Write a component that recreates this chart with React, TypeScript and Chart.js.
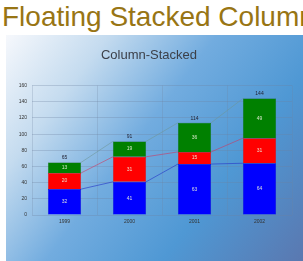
import React, { useEffect, useRef } from "react";
import { Chart, registerables } from "chart.js";

Chart.register(...registerables);

const categories = ["1999", "2000", "2001", "2002"];
const blueValues = [32, 41, 63, 64];
const redValues = [20, 31, 15, 31];
const greenValues = [13, 19, 36, 49];
const yMin = 0;
const yMax = 160;
const yStep = 20;

const seriesColors = ["#0000ff", "#ff0000", "#008000"];
const connectorColors = ["rgba(40,60,200,0.65)", "rgba(210,50,90,0.55)", "rgba(110,150,150,0.55)"];

const bgPlugin = {
  id: "bgGradient",
  beforeDraw(chart: any) {
    const { ctx, width, height } = chart;
    const g = ctx.createLinearGradient(0, 0, width, height);
    g.addColorStop(0, "#f6f8fc");
    g.addColorStop(0.22, "#c4dbef");
    g.addColorStop(0.45, "#72acdf");
    g.addColorStop(0.7, "#4f98d4");
    g.addColorStop(1, "#5a78b0");
    ctx.save();
    ctx.fillStyle = g;
    ctx.fillRect(0, 0, width, height);
    ctx.restore();
  },
};

const overlayPlugin = {
  id: "overlay",
  afterDatasetsDraw(chart: any) {
    const { ctx } = chart;
    const n = chart.data.labels.length;
    const metas = chart.data.datasets.map((_: any, i: number) => chart.getDatasetMeta(i));
    ctx.save();
    metas.forEach((meta: any, d: number) => {
      ctx.strokeStyle = connectorColors[d];
      ctx.lineWidth = 1;
      for (let i = 0; i < n - 1; i++) {
        const a = meta.data[i];
        const b = meta.data[i + 1];
        ctx.beginPath();
        ctx.moveTo(a.x + a.width / 2, a.y);
        ctx.lineTo(b.x - b.width / 2, b.y);
        ctx.stroke();
      }
    });
    ctx.font = "5px Arial";
    ctx.textAlign = "center";
    ctx.textBaseline = "middle";
    metas.forEach((meta: any, d: number) => {
      const vals = chart.data.datasets[d].data;
      meta.data.forEach((el: any, i: number) => {
        ctx.fillStyle = "rgba(235,240,220,0.9)";
        ctx.fillText(String(vals[i]), el.x, (el.y + el.base) / 2);
      });
    });
    const last = metas[metas.length - 1];
    ctx.fillStyle = "#223";
    ctx.textBaseline = "bottom";
    for (let i = 0; i < n; i++) {
      let total = 0;
      chart.data.datasets.forEach((ds: any) => (total += ds.data[i]));
      const el = last.data[i];
      ctx.fillText(String(total), el.x, el.y - 2);
    }
    ctx.restore();
  },
};

export default function App() {
  const ref = useRef<HTMLCanvasElement>(null);
  useEffect(() => {
    document.body.style.margin = "0";
    const chart = new Chart(ref.current as HTMLCanvasElement, {
      type: "bar",
      data: {
        labels: categories,
        datasets: [
          { label: "Blue", data: blueValues, backgroundColor: seriesColors[0], borderColor: "#0000b0", borderWidth: 0.5 },
          { label: "Red", data: redValues, backgroundColor: seriesColors[1], borderColor: "#c00000", borderWidth: 0.5 },
          { label: "Green", data: greenValues, backgroundColor: seriesColors[2], borderColor: "#005a00", borderWidth: 0.5 },
        ],
      },
      options: {
        responsive: false,
        animation: false,
        layout: { padding: { left: 0, right: 11, top: 0, bottom: 0 } },
        datasets: { bar: { categoryPercentage: 1, barPercentage: 0.51 } },
        plugins: {
          legend: { display: false },
          tooltip: { enabled: false },
          title: {
            display: true,
            text: "Column-Stacked",
            color: "#3c4049",
            font: { family: "Arial", size: 13, weight: "normal" },
            padding: { top: 13, bottom: 22 },
          },
        },
        scales: {
          x: {
            stacked: true,
            grid: { display: true, offset: true, color: "rgba(110,130,160,0.25)", drawTicks: false },
            border: { display: false },
            ticks: { color: "#333", font: { family: "Arial", size: 5 }, padding: 4 },
            afterFit: (s: any) => { s.height = 46; },
          },
          y: {
            stacked: true,
            min: yMin,
            max: yMax,
            grid: { color: "rgba(110,130,160,0.3)", drawTicks: false },
            border: { display: false },
            ticks: { stepSize: yStep, color: "#333", font: { family: "Arial", size: 5 }, padding: 5 },
            afterFit: (s: any) => { s.width = 26; },
          },
        },
      },
      plugins: [bgPlugin, overlayPlugin],
    } as any);
    return () => chart.destroy();
  }, []);
  return (
    <div style={{ position: "relative", width: 303, height: 261, overflow: "hidden", background: "#fff" }}>
      <div
        style={{
          position: "absolute",
          left: 2,
          top: 1,
          whiteSpace: "nowrap",
          fontFamily: "Arial, 'Liberation Sans', sans-serif",
          fontSize: 28,
          lineHeight: "32px",
          color: "#987514",
        }}
      >
        Floating Stacked Column
      </div>
      <canvas ref={ref} width={297} height={226} style={{ position: "absolute", left: 6, top: 35, width: 297, height: 226 }} />
    </div>
  );
}
